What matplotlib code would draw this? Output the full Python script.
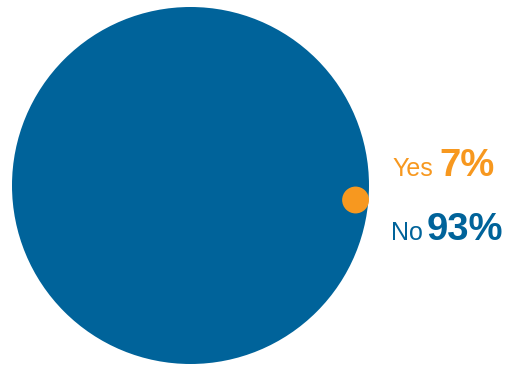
import matplotlib.pyplot as plt
from matplotlib.patches import Circle

labels = ['Yes', 'No']
values = [7, 93]
colors = ['#F7981F', '#00639A']

plt.rcParams['font.family'] = ['Liberation Sans', 'DejaVu Sans']

fig = plt.figure(figsize=(5.05, 3.65), dpi=100)
ax = fig.add_axes([0, 0, 1, 1])
ax.set_xlim(0, 505)
ax.set_ylim(365, 0)
ax.set_aspect('equal')
ax.axis('off')

# big circle for the largest share, small dot scaled by value
R = 178.5
cx, cy = 190.5, 185.5
vmax = max(values)
ax.add_patch(Circle((cx, cy), R * values[1] / vmax, color=colors[1], lw=0))
r_yes = R * values[0] / vmax
ax.add_patch(Circle((cx + R - r_yes, 200), r_yes, color=colors[0], lw=0))

# labels
ax.text(392, 176, labels[0], fontsize=18, color=colors[0], ha='left', va='baseline')
ax.text(439, 176, f'{values[0]}%', fontsize=27.5, fontweight='bold', color=colors[0],
        ha='left', va='baseline')
ax.text(391, 240, labels[1], fontsize=18, color=colors[1], ha='left', va='baseline')
ax.text(427, 240, f'{values[1]}%', fontsize=27.5, fontweight='bold', color=colors[1],
        ha='left', va='baseline')

fig.savefig('out.png', dpi=100)
